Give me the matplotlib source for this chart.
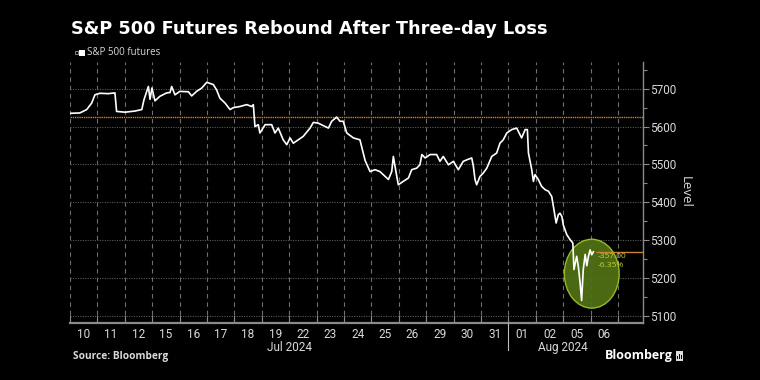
import matplotlib
matplotlib.use("Agg")
import matplotlib.pyplot as plt
from matplotlib.patches import Ellipse, Rectangle
import matplotlib.transforms as mtransforms

# ---------------- data ----------------
day_labels = ["10", "11", "12", "15", "16", "17", "18", "19", "22", "23", "24",
              "25", "26", "29", "30", "31", "01", "02", "05", "06"]
month_labels = ["Jul 2024", "Aug 2024"]
month_first_day = [0, 16]
month_last_day = [16, 20]

# time in trading-day units from the start of Jul 10 session
t = [0.00, 0.36, 0.61, 0.79, 0.91, 1.09, 1.39, 1.64, 1.70, 2.01, 2.37, 2.62,
     2.70, 2.86, 2.92, 2.99, 3.10, 3.28, 3.53, 3.65, 3.71, 3.83, 4.01, 4.32,
     4.44, 4.62, 4.81, 4.99, 5.23, 5.35, 5.47, 5.66, 5.84, 5.96, 6.20, 6.45,
     6.63, 6.69, 6.75, 6.87, 6.93, 7.12, 7.36, 7.48, 7.60, 7.78, 7.91, 8.03,
     8.15, 8.33, 8.51, 8.76, 8.88, 9.06, 9.31, 9.43, 9.55, 9.73, 9.85, 9.97,
     10.10, 10.34, 10.58, 10.77, 10.95, 11.13, 11.31, 11.50, 11.62, 11.74,
     11.80, 11.86, 11.98, 12.16, 12.35, 12.47, 12.65, 12.77, 12.84, 12.96,
     13.14, 13.38, 13.50, 13.62, 13.81, 13.99, 14.17, 14.35, 14.48, 14.66,
     14.72, 14.78, 14.84, 14.96, 15.08, 15.21, 15.39, 15.57, 15.69, 15.81,
     15.94, 16.12, 16.30, 16.48, 16.61, 16.69, 16.73, 16.85, 16.91, 16.97,
     17.09, 17.21, 17.34, 17.46, 17.58, 17.64, 17.74, 17.82, 17.88, 17.95,
     18.00, 18.13, 18.25, 18.35, 18.39, 18.49, 18.55, 18.61, 18.67, 18.73,
     18.80, 18.86, 18.92, 18.98, 19.04, 19.10]
level = [5635, 5636, 5645, 5662, 5684, 5688, 5687, 5689, 5640, 5638, 5641, 5645,
         5671, 5706, 5672, 5702, 5668, 5680, 5689, 5690, 5706, 5684, 5693, 5692,
         5681, 5693, 5702, 5717, 5711, 5697, 5675, 5662, 5645, 5650, 5653, 5658,
         5653, 5658, 5600, 5605, 5583, 5605, 5605, 5583, 5596, 5565, 5552, 5570,
         5556, 5565, 5574, 5596, 5611, 5609, 5600, 5596, 5614, 5625, 5614, 5614,
         5583, 5570, 5565, 5510, 5481, 5486, 5481, 5468, 5460, 5481,
         5521, 5495, 5446, 5455, 5464, 5486, 5490, 5499, 5526, 5517,
         5526, 5526, 5508, 5521, 5499, 5508, 5486, 5508, 5512, 5517,
         5495, 5460, 5446, 5468, 5477, 5490, 5521, 5530, 5556, 5565,
         5583, 5592, 5596, 5570, 5592, 5592, 5530, 5486, 5455, 5473,
         5460, 5442, 5433, 5429, 5415, 5389, 5345, 5367, 5371, 5362,
         5340, 5314, 5301, 5292, 5222, 5257, 5230, 5190, 5140, 5222,
         5262, 5232, 5257, 5274, 5261, 5269]

prior_level = 5626
last_level = 5269
y_ticks = [5100, 5200, 5300, 5400, 5500, 5600, 5700]

# ---------------- style ----------------
BG = "black"
TXT = "#d9d9d9"
GRID = "#5a5a5a"
ORANGE = "#c8842f"

fig = plt.figure(figsize=(7.6, 3.8), dpi=100, facecolor=BG)
ax = fig.add_axes([70 / 760, 1 - 322.5 / 380, (643 - 70) / 760, (322.5 - 61.5) / 380])
ax.set_facecolor(BG)

ax.set_xlim(0, 20.91)
ax.set_ylim(5082, 5772)

# grid
for k in range(len(day_labels) + 1):
    ax.axvline(k, color="#6e6e6e", lw=0.8, ls=(0, (4, 3.5)), zorder=1)
for v in y_ticks:
    ax.axhline(v, color=GRID, lw=0.8, ls=(0, (1, 1.2)), zorder=1)

# highlight ellipse
ell = Ellipse((19.04, 5211), width=2.0, height=182, facecolor="#4f7014",
              edgecolor="#9cc02e", lw=1.0, alpha=0.95, zorder=2)
ax.add_patch(ell)

# reference lines
ax.axhline(prior_level, color=ORANGE, lw=1.0, ls=(0, (1, 0.6)), zorder=3)
ax.plot([t[-1] + 0.1, 20.91], [last_level, last_level], color=ORANGE, lw=1.0,
        zorder=3, solid_capstyle="butt")

# series
ax.plot(t, level, color="white", lw=1.2, zorder=4, solid_joinstyle="round")

change = last_level - prior_level
pct = change / prior_level * 100
ax.annotate(f"{change:.2f}", (t[-1], last_level), xytext=(4, -5),
            textcoords="offset pixels", color="#c9cf3c", fontsize=6,
            va="center", ha="left", family="Open Sans", zorder=5)
ax.annotate(f"{pct:.2f}%", (t[-1], last_level), xytext=(4, -14),
            textcoords="offset pixels", color="#c9cf3c", fontsize=6,
            va="center", ha="left", family="Open Sans", zorder=5)

# spines
for s in ["top", "left"]:
    ax.spines[s].set_visible(False)
ax.spines["bottom"].set_color("#8a8a8a")
ax.spines["bottom"].set_linewidth(1.6)
ax.spines["right"].set_color("#8a8a8a")
ax.spines["right"].set_linewidth(1.0)

# y axis on right
ax.yaxis.tick_right()
ax.set_yticks(y_ticks)
ax.set_yticklabels([str(v) for v in y_ticks])
ax.set_yticks([v + 50 for v in y_ticks[:-1]] + [5050 + 700], minor=True)
ax.tick_params(axis="y", which="major", direction="out", length=4, width=0.8,
               color="#8a8a8a", labelcolor=TXT, labelsize=8.5, pad=1)
ax.tick_params(axis="y", which="minor", direction="out", length=3, width=0.8,
               color="#8a8a8a")
for lab in ax.get_yticklabels():
    lab.set_family("Roboto")
ax.set_ylabel("Level", color=TXT, fontsize=9.5, rotation=270, labelpad=11,
              family="Open Sans")
ax.yaxis.set_label_position("right")

# x axis
ax.set_xticks(range(len(day_labels) + 1))
ax.set_xticklabels([])
ax.set_xticks([k + 0.5 for k in range(len(day_labels))], minor=True)
ax.set_xticklabels(day_labels, minor=True)
ax.tick_params(axis="x", which="major", direction="in", length=6, width=0.8,
               color="#8a8a8a")
ax.tick_params(axis="x", which="minor", length=0, labelcolor=TXT,
               labelsize=8.5, pad=4)
for lab in ax.get_xticklabels(minor=True):
    lab.set_family("Roboto")

trans = mtransforms.blended_transform_factory(ax.transData, ax.transAxes)
for name, a, b in zip(month_labels, month_first_day, month_last_day):
    ax.text((a + b) / 2, -0.095, name, transform=trans, ha="center", va="center",
            color=TXT, fontsize=8.5, family="Roboto")
ax.plot([month_first_day[1]] * 2, [0, -0.105], transform=trans, color="#bbbbbb",
        lw=0.8, clip_on=False, zorder=5)

# title and legend
fig.text(71 / 760, 1 - 29 / 380, "S&P 500 Futures Rebound After Three-day Loss",
         color="white", fontsize=12.8, fontweight="bold", va="center", ha="left",
         family="DejaVu Sans")
fig.patches.append(Rectangle((74.5 / 760, 1 - 54 / 380), 3 / 760, 3 / 380,
                             transform=fig.transFigure, facecolor="none",
                             edgecolor="#999999", lw=0.6))
fig.patches.append(Rectangle((79 / 760, 1 - 55.5 / 380), 5.5 / 760, 5.5 / 380,
                             transform=fig.transFigure, facecolor="white",
                             edgecolor="none"))
fig.text(87 / 760, 1 - 52.5 / 380, "S&P 500 futures", color=TXT, fontsize=7,
         va="center", ha="left", family="Open Sans")

# footer
fig.text(73 / 760, 1 - 357 / 380, "Source: Bloomberg", color=TXT, fontsize=7.3,
         fontweight="bold", va="center", ha="left", family="Open Sans")
fig.text(673 / 760, 1 - 356 / 380, "Bloomberg", color="white", fontsize=9,
         fontweight="bold", va="center", ha="right", family="Open Sans")
fig.patches.append(Rectangle((676 / 760, 1 - 361 / 380), 7 / 760, 10 / 380,
                             transform=fig.transFigure, facecolor="#dddddd",
                             edgecolor="none"))
for i, h in enumerate([3, 5, 4]):
    fig.patches.append(Rectangle(((677.3 + i * 1.8) / 760, 1 - 358.5 / 380),
                                 0.8 / 760, h / 380, transform=fig.transFigure,
                                 facecolor="black", edgecolor="none"))

fig.savefig("out.png", dpi=100, facecolor=BG)
